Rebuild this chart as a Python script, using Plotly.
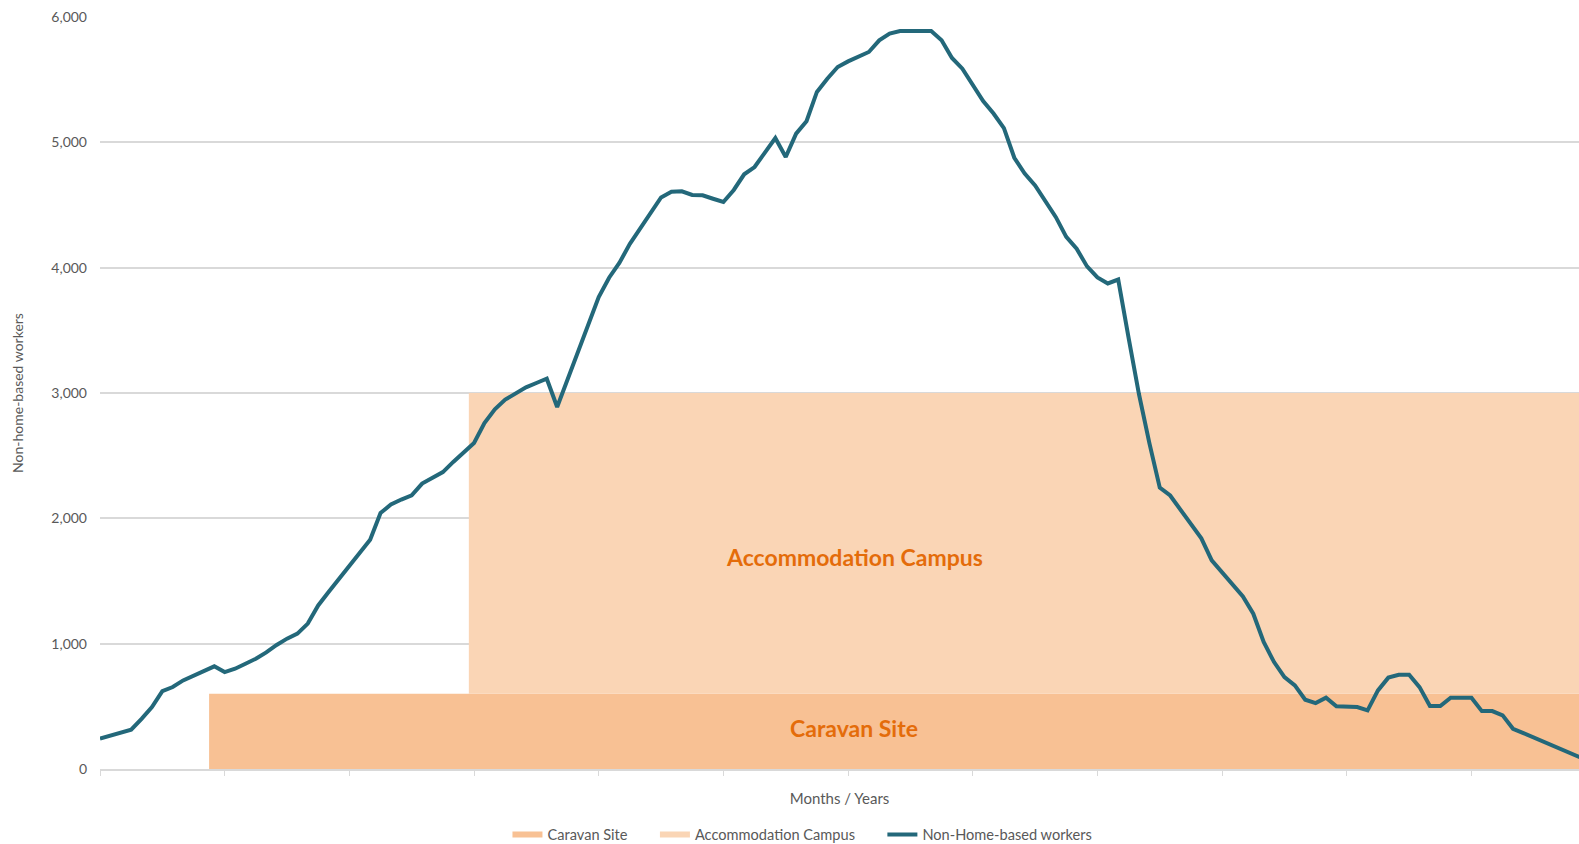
import plotly.graph_objects as go

# ---- data ----
months = list(range(0, 144))
workers = [
    242, 266, 290, 314, 400, 494, 622, 654, 707, 747,
    787, 819, 773, 800, 840, 880, 930, 990, 1040, 1080,
    1160, 1305, 1412, 1518, 1620, 1720, 1830, 2042, 2110, 2150,
    2183, 2277, 2320, 2369, 2450, 2530, 2601, 2760, 2870, 2947,
    3000, 3045, 3080, 3114, 2888, 3110, 3330, 3540, 3766, 3920,
    4040, 4190, 4311, 4440, 4560, 4605, 4609, 4580, 4577, 4550,
    4524, 4620, 4745, 4803, 4923, 5034, 4883, 5069, 5168, 5402,
    5508, 5601, 5646, 5685, 5721, 5814, 5867, 5888, 5888, 5888,
    5888, 5814, 5673, 5588, 5460, 5330, 5230, 5113, 4877, 4751,
    4656, 4530, 4403, 4246, 4151, 4010, 3922, 3874, 3905, 3440,
    2990, 2600, 2245, 2182, 2070, 1960, 1840, 1665, 1570, 1479,
    1377, 1239, 1013, 853, 733, 667, 553, 526, 569, 500,
    494, 494, 468, 627, 729, 752, 752, 653, 502, 502,
    569, 569, 569, 462, 462, 428, 321, 287, 250, 215,
    180, 143, 108, 73,
]

caravan_start_month = 10.5
campus_start_month = 35.5
horizon_end_month = 144
caravan_capacity = 600
campus_capacity = 2400
tick_months = list(range(0, 145, 12))

series_names = ["Caravan Site", "Accommodation Campus", "Non-Home-based workers"]
label_month = 72.6
campus_label_value = 1690
caravan_label_value = 330

# ---- styles ----
FONT = "Lato"
GREY = "#595959"
CARAVAN_COLOR = "#F8C194"
CAMPUS_COLOR = "#FAD5B5"
LINE_COLOR = "#23687A"
LABEL_COLOR = "#E46C0A"
PAD = "\u00a0" * 6

fig = go.Figure()

cx = [caravan_start_month, caravan_start_month, horizon_end_month, horizon_end_month]
cy = [0, caravan_capacity, caravan_capacity, 0]
fig.add_trace(go.Scatter(
    x=cx, y=cy, fill="toself", fillcolor=CARAVAN_COLOR, mode="none",
    name=series_names[0] + PAD, hoverinfo="skip",
))

campus_top = caravan_capacity + campus_capacity
ax = [campus_start_month, campus_start_month, horizon_end_month, horizon_end_month]
ay = [caravan_capacity, campus_top, campus_top, caravan_capacity]
fig.add_trace(go.Scatter(
    x=ax, y=ay, fill="toself", fillcolor=CAMPUS_COLOR, mode="none",
    name=series_names[1] + PAD, hoverinfo="skip",
))

fig.add_trace(go.Scatter(
    x=months, y=workers, mode="lines",
    line=dict(color=LINE_COLOR, width=4),
    name=series_names[2],
))

fig.add_annotation(
    x=label_month, y=campus_label_value,
    text="<b>Accommodation Campus</b>", showarrow=False,
    font=dict(family=FONT, size=23, color=LABEL_COLOR),
)
fig.add_annotation(
    x=label_month, y=caravan_label_value,
    text="<b>Caravan Site</b>", showarrow=False,
    font=dict(family=FONT, size=23, color=LABEL_COLOR),
)

fig.update_layout(
    width=1579, height=844,
    margin=dict(l=100, r=0, t=17, b=75, autoexpand=False),
    paper_bgcolor="white", plot_bgcolor="white",
    font=dict(family=FONT, size=14, color=GREY),
    showlegend=True,
    legend=dict(
        orientation="h", x=0.2755, xanchor="left", y=-0.087, yanchor="middle",
        font=dict(family=FONT, size=14.6, color=GREY),
        itemwidth=30, tracegroupgap=0,
    ),
    xaxis=dict(
        range=[0, 142.35], tickmode="array", tickvals=tick_months,
        showticklabels=False, ticks="outside", ticklen=5, tickcolor="#D9D9D9",
        showline=True, linecolor="#D9D9D9", linewidth=1.5,
        showgrid=False, zeroline=False,
        title=dict(text="Months / Years", font=dict(family=FONT, size=15, color=GREY), standoff=19),
    ),
    yaxis=dict(
        range=[0, 6000], dtick=1000, tickformat=",",
        gridcolor="#D9D9D9", gridwidth=1.5, zeroline=False, showline=False,
        ticks="", ticklabelstandoff=12,
        tickfont=dict(family=FONT, size=14, color=GREY),
        title=dict(text="Non-home-based workers", font=dict(family=FONT, size=14, color=GREY), standoff=24),
    ),
)

fig.write_html(
    "out.html",
    config={"displayModeBar": False},
    post_script="document.body.style.margin='0';",
)
